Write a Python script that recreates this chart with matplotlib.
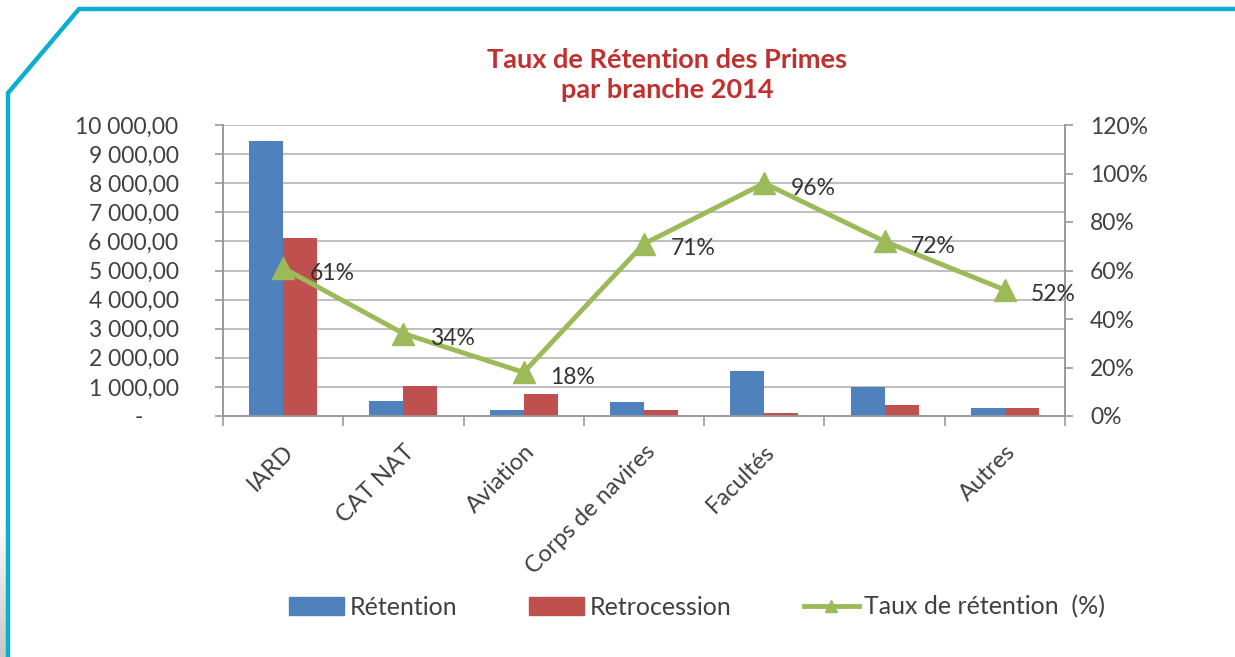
import matplotlib
matplotlib.use("Agg")
import matplotlib.pyplot as plt
import numpy as np
from matplotlib.lines import Line2D
from matplotlib.patches import Patch
from matplotlib.ticker import FuncFormatter, FixedLocator

# ---- data ----
categories = ["IARD", "CAT NAT", "Aviation", "Corps de navires", "Facultés", "", "Autres"]
retention = [9450, 510, 210, 470, 1550, 1010, 265]
retrocession = [6100, 1030, 760, 200, 90, 380, 260]
taux = [0.61, 0.34, 0.18, 0.71, 0.96, 0.72, 0.52]
taux_labels = ["61%", "34%", "18%", "71%", "96%", "72%", "52%"]
title = "Taux de Rétention des Primes\npar branche 2014"
legend_labels = ["Rétention", "Retrocession", "Taux de rétention  (%)"]

BLUE = "#4F81BD"
RED = "#C0504D"
GREEN = "#9BBB59"
GRID = "#BFBFBF"
TXT = "#404040"
CYAN = "#0AAFCF"

plt.rcParams['font.family'] = ['Lato', 'DejaVu Sans']

W, H = 1235, 657
fig = plt.figure(figsize=(W / 100, H / 100), dpi=100)
fig.patch.set_facecolor("white")

# left grey gradient strip
gax = fig.add_axes([0, 0, 7 / W, 140 / H])
grad = np.linspace(0.78, 1.0, 100).reshape(-1, 1)
gax.imshow(grad, cmap="gray", vmin=0, vmax=1, aspect="auto", extent=[0, 1, 0, 1], origin="lower")
gax.axis("off")

# frame (cyan polyline)
fx = np.array([8, 8, 79, 1235]) / W
fy = 1 - np.array([657, 93, 9, 9]) / H
fig.add_artist(Line2D(fx, fy, color=CYAN, lw=3.2, solid_joinstyle="miter", transform=fig.transFigure))

left, right, top, bottom = 223, 1065, 125, 416
ax = fig.add_axes([left / W, 1 - bottom / H, (right - left) / W, (bottom - top) / H])
ax2 = ax.twinx()

x = np.arange(len(categories))
bw = 0.283
ax.bar(x - bw / 2, retention, width=bw, color=BLUE, zorder=3)
ax.bar(x + bw / 2, retrocession, width=bw, color=RED, zorder=3)

ax.set_xlim(-0.5, len(categories) - 0.5)
ax.set_ylim(0, 10000)
ax.set_yticks(np.arange(0, 10001, 1000))


def fmt_left(v, pos):
    if v == 0:
        return "-      "
    return f"{int(v):,}".replace(",", " ") + ",00"


ax.yaxis.set_major_formatter(FuncFormatter(fmt_left))
ax.grid(axis="y", color=GRID, lw=1.4, zorder=0)
ax.set_axisbelow(True)

ax.set_xticks(x)
ax.set_xticklabels(categories, rotation=45, ha="right", va="top", rotation_mode="anchor")
ax.xaxis.set_minor_locator(FixedLocator(np.arange(-0.5, len(categories), 1.0)))
ax.tick_params(axis="x", which="major", length=0, pad=18, labelsize=17, labelcolor=TXT)
ax.tick_params(axis="x", which="minor", length=7, color="#9a9a9a", width=1.2)
ax.tick_params(axis="y", length=6, color="#9a9a9a", width=1.2, pad=26, labelsize=16.5, labelcolor=TXT)

for s in ["top"]:
    ax.spines[s].set_visible(False)
    ax2.spines[s].set_visible(False)
for a in (ax, ax2):
    for s in ["left", "right", "bottom"]:
        a.spines[s].set_color("#9a9a9a")
        a.spines[s].set_linewidth(1.2)

ax2.plot(x, taux, color=GREEN, lw=3.5, marker="^", markersize=16, zorder=5)
ax2.set_ylim(0, 1.2)
ax2.set_yticks(np.arange(0, 1.21, 0.2))
ax2.yaxis.set_major_formatter(FuncFormatter(lambda v, p: f"{v * 100:.0f}%"))
ax2.tick_params(axis="y", length=6, color="#9a9a9a", width=1.2, pad=12, labelsize=16.5, labelcolor=TXT)

for xi, yi, lab in zip(x, taux, taux_labels):
    ax2.annotate(lab, (xi, yi), xytext=(19, -3.6), textcoords="offset points",
                 ha="left", va="center", fontsize=16.5, color="#333333", zorder=6)

fig.text(667 / W, 1 - 75 / H, title, ha="center", va="center", fontsize=19.5,
         fontweight="bold", color="#C0302E", linespacing=1.3)

handles = [Patch(color=BLUE), Patch(color=RED),
           Line2D([0], [0], color=GREEN, lw=3.5, marker="^", markersize=9)]
fig.legend(handles, legend_labels, loc="center", bbox_to_anchor=(697 / W, 1 - 607 / H),
           ncol=3, frameon=False, fontsize=18, handlelength=2.2, handleheight=0.7,
           handletextpad=0.2, columnspacing=2.9, labelcolor=TXT)

fig.savefig("out.png", dpi=100, facecolor="white")
